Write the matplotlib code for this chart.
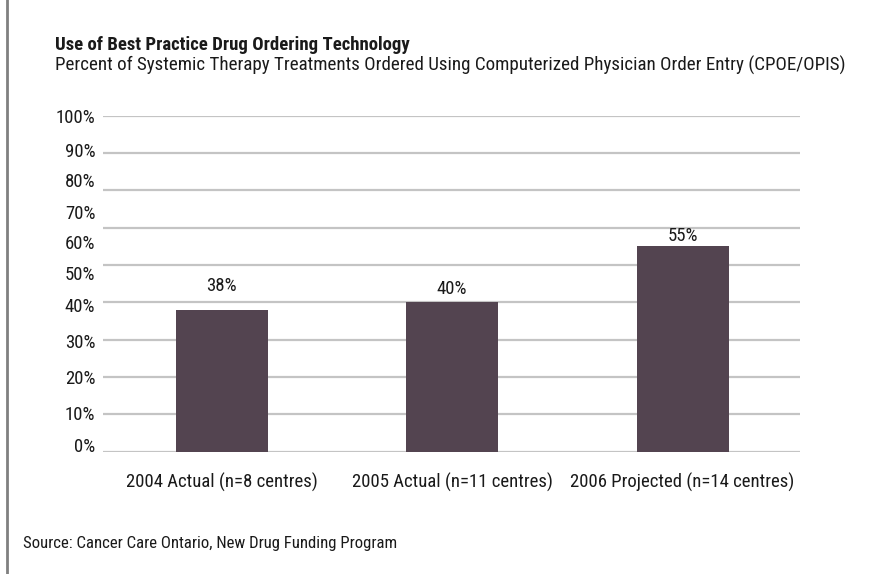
"""
Use of best practice drug ordering technology (CPOE/OPIS), bar chart replot
"""
import matplotlib.pyplot as plt
from matplotlib.lines import Line2D
from matplotlib import font_manager

categories = ["2004 Actual (n=8 centres)", "2005 Actual (n=11 centres)",
              "2006 Projected (n=14 centres)"]
percent = [38, 40, 55]
tick_labels = ["0%", "10%", "20%", "30%", "40%", "50%", "60%", "70%", "80%", "90%", "100%"]
grid_values = [0, 10, 20, 30, 40, 50, 60, 70, 80, 90]

# where the original put its y labels (they don't sit on the gridlines)
LABEL_POS = [1.8, 10.3, 20.1, 29.6, 39.2, 47.9, 56.1, 64.1, 72.7, 80.9, 90.0]
# gap (points) between each bar top and its value label, uneven in the original
LABEL_GAP = [10.5, 2.8, 1.2]

BAR_COLOR = "#534450"
GRID_COLOR = "#c4c4c4"
TEXT_COLOR = "#1a1a1a"
FS = 13.5

# narrow sans, closest thing to the Univers Condensed of the original
names = {f.name for f in font_manager.fontManager.ttflist}
FONT = "DejaVu Sans"
for cand in ["Roboto Condensed", "Archivo Narrow", "Fira Sans Condensed",
             "Barlow Semi Condensed", "Asap Condensed", "Liberation Sans Narrow",
             "Liberation Sans"]:
    if cand in names:
        FONT = cand
        break
plt.rcParams["font.family"] = [FONT, "DejaVu Sans"]


def main():
    fig = plt.figure(figsize=(8.96, 5.74), dpi=100)
    ax = fig.add_axes([0.115, 0.213, 0.778, 0.5855])

    x = range(len(categories))
    for g in grid_values:
        ax.axhline(g, color=GRID_COLOR, lw=1.6, zorder=0)
    ax.bar(x, percent, width=0.4, color=BAR_COLOR, zorder=2)
    for xi, v, gap in zip(x, percent, LABEL_GAP):
        ax.annotate(f"{v}%", (xi, v), xytext=(0, gap), textcoords="offset points",
                    ha="center", va="bottom", fontsize=FS, color=TEXT_COLOR)

    ax.set_xlim(-0.515, 2.51)
    ax.set_ylim(0, 90)
    ax.set_yticks(LABEL_POS)
    ax.set_yticklabels(tick_labels)
    ax.set_xticks(list(x))
    ax.set_xticklabels(categories)
    ax.tick_params(axis="y", length=0, pad=5.5, labelsize=FS, labelcolor=TEXT_COLOR)
    ax.tick_params(axis="x", length=0, pad=15, labelsize=FS, labelcolor=TEXT_COLOR)
    for s in ax.spines.values():
        s.set_visible(False)

    fig.text(0.0614, 0.922, "Use of Best Practice Drug Ordering Technology",
             fontsize=13.5, fontweight="heavy", color=TEXT_COLOR, va="center")
    fig.text(0.0614, 0.886,
             "Percent of Systemic Therapy Treatments Ordered Using Computerized "
             "Physician Order Entry (CPOE/OPIS)",
             fontsize=13.7, color=TEXT_COLOR, va="center")
    fig.text(0.0257, 0.053, "Source: Cancer Care Ontario, New Drug Funding Program",
             fontsize=12.1, color=TEXT_COLOR, va="center")

    # left edge of the surrounding box
    fig.add_artist(Line2D([0.008, 0.008], [0, 1], transform=fig.transFigure,
                          color="#808080", lw=2))

    fig.savefig("out.png", dpi=100)
    plt.close(fig)


if __name__ == "__main__":
    main()
